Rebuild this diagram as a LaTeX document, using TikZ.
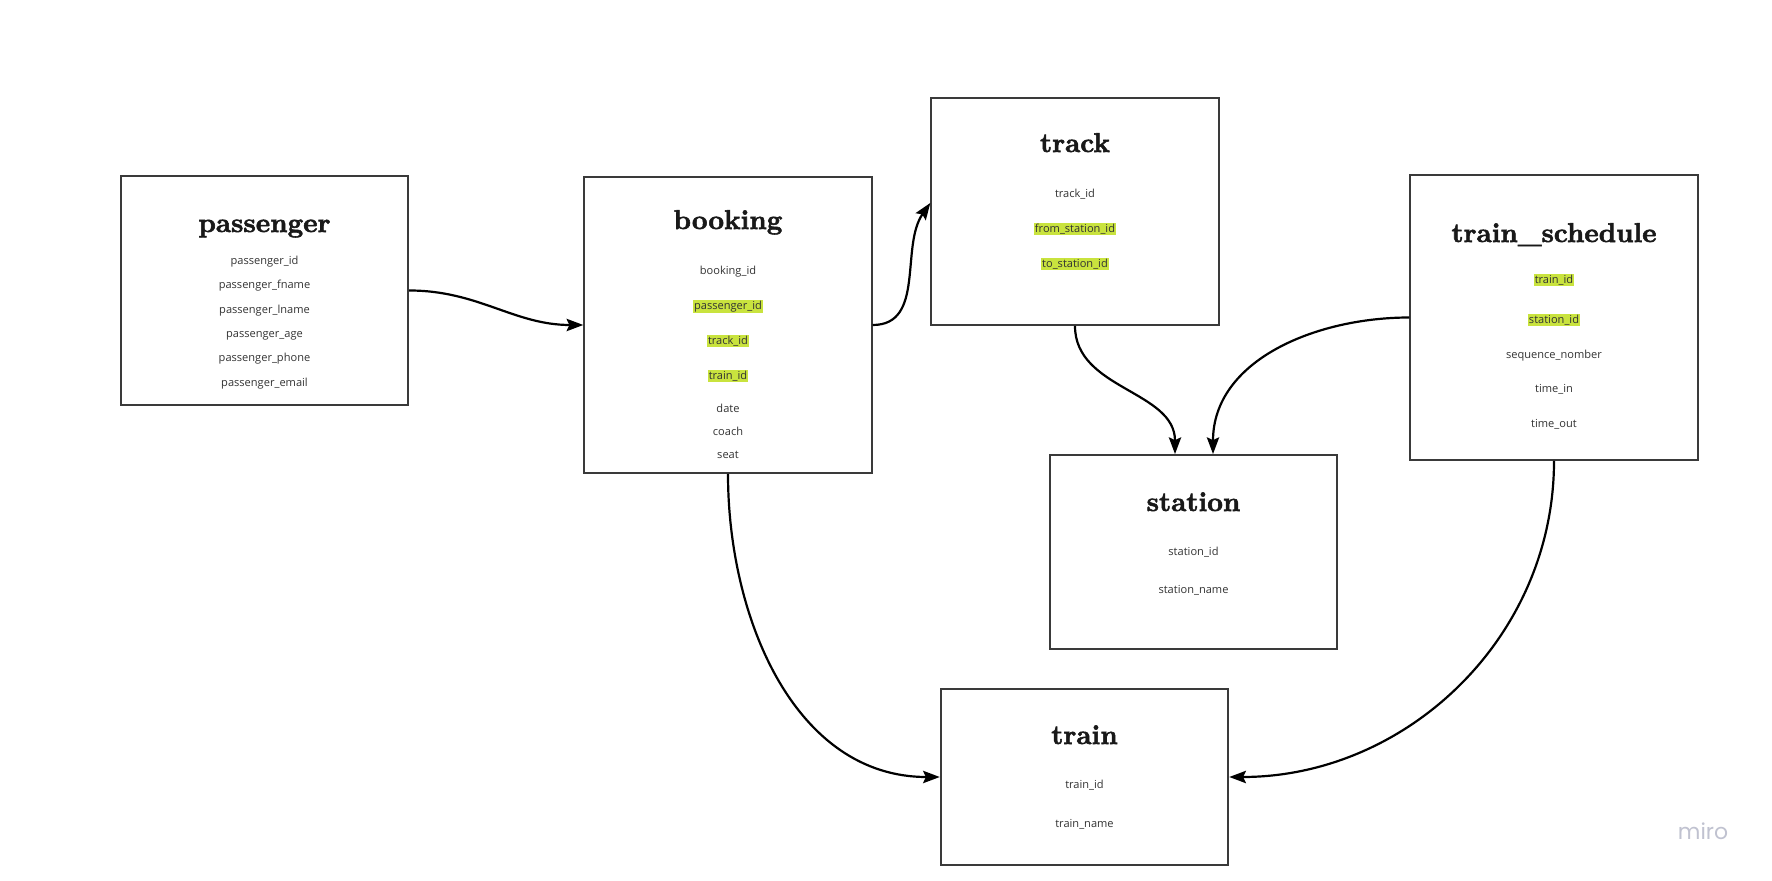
\documentclass[tikz,border=0pt]{standalone}
\usepackage{fontspec}
\usepackage{xcolor}
\usetikzlibrary{positioning,arrows.meta}
\newfontfamily\fieldfont{Open Sans}
\newfontfamily\titlefont{lmroman10-bold.otf}[FakeBold=2]
\newfontfamily\mirofont{Poppins}
\definecolor{hl}{HTML}{C9E33E}
\definecolor{frame}{HTML}{3A3A3A}
\definecolor{mirogray}{HTML}{C0C2D0}
\newcommand{\fk}[1]{{\setlength{\fboxsep}{0.6pt}\colorbox{hl}{#1}}}

\begin{document}
\begin{tikzpicture}[>={Stealth[length=9.5pt,width=7pt,inset=1.6pt]},
  tb/.style={draw=frame,line width=1.1pt,fill=white,minimum width=5.75cm,inner sep=0pt},
  ttl/.style={anchor=base,inner sep=0pt,text=black!90,font=\titlefont\fontsize{15.5pt}{18pt}\selectfont},
  fld/.style={anchor=north,align=center,inner sep=0pt,text=black!80,font=\fieldfont\fontsize{6.3pt}{#1}\selectfont},
  con/.style={->,line width=1.25pt}]
\useasboundingbox (0,0) rectangle (35.44,-17.62);
% tables
\node[tb,minimum height=4.58cm] (pa) at (5.29,-5.81) {};
\node[ttl] (paT) at ([yshift=-1.14cm]pa.north) {passenger};
\node[fld=13.9pt] (paF) at ([yshift=-1.61cm]pa.north) {passenger\_id\\passenger\_fname\\passenger\_lname\\passenger\_age\\passenger\_phone\\passenger\_email};
\node[tb,minimum height=5.92cm] (bo) at (14.56,-6.50) {};
\node[ttl] (boT) at ([yshift=-1.06cm]bo.north) {booking};
\node[fld=19.9pt] (boF) at ([yshift=-1.79cm]bo.north) {booking\_id\\\fk{passenger\_id}\\\fk{track\_id}\\\fk{train\_id}\\[-1.1pt]date\\[-6.8pt]coach\\[-6.8pt]seat};
\node[tb,minimum height=4.54cm] (tk) at (21.50,-4.23) {};
\node[ttl] (tkT) at ([yshift=-1.10cm]tk.north) {track};
\node[fld=19.9pt] (tkF) at ([yshift=-1.83cm]tk.north) {track\_id\\\fk{from\_station\_id}\\\fk{to\_station\_id}};
\node[tb,minimum height=5.70cm] (ts) at (31.08,-6.35) {};
\node[ttl] (tsT) at ([yshift=-1.36cm]ts.north) {train\_schedule};
\node[fld=19.7pt] (tsF) at ([yshift=-1.99cm]ts.north) {\fk{train\_id}\\[3.1pt]\fk{station\_id}\\sequence\_nomber\\time\_in\\time\_out};
\node[tb,minimum height=3.88cm] (st) at (23.87,-11.04) {};
\node[ttl] (stT) at ([yshift=-1.14cm]st.north) {station};
\node[fld=21.6pt] (stF) at ([yshift=-1.86cm]st.north) {station\_id\\station\_name};
\node[tb,minimum height=3.52cm] (tr) at (21.69,-15.54) {};
\node[ttl] (trT) at ([yshift=-1.12cm]tr.north) {train};
\node[fld=22.2pt] (trF) at ([yshift=-1.83cm]tr.north) {train\_id\\train\_name};
\node[text=mirogray,font=\mirofont\fontsize{12.5pt}{14pt}\selectfont] (miro) at (34.06,-16.62) {miro};
% links
\draw[con] (pa.east) to[out=0,in=180] (bo.west);
\draw[con] (bo.east) to[out=0,in=235] ([yshift=0.17cm]tk.west);
\draw[con] (tk.south) to[out=-90,in=90] ([xshift=-0.37cm]st.north);
\draw[con] (ts.west) to[out=180,in=90] ([xshift=0.39cm]st.north);
\draw[con] (bo.south) to[out=-90,in=180] (tr.west);
\draw[con] (ts.south) to[out=-90,in=0] (tr.east);
\end{tikzpicture}
\end{document}
